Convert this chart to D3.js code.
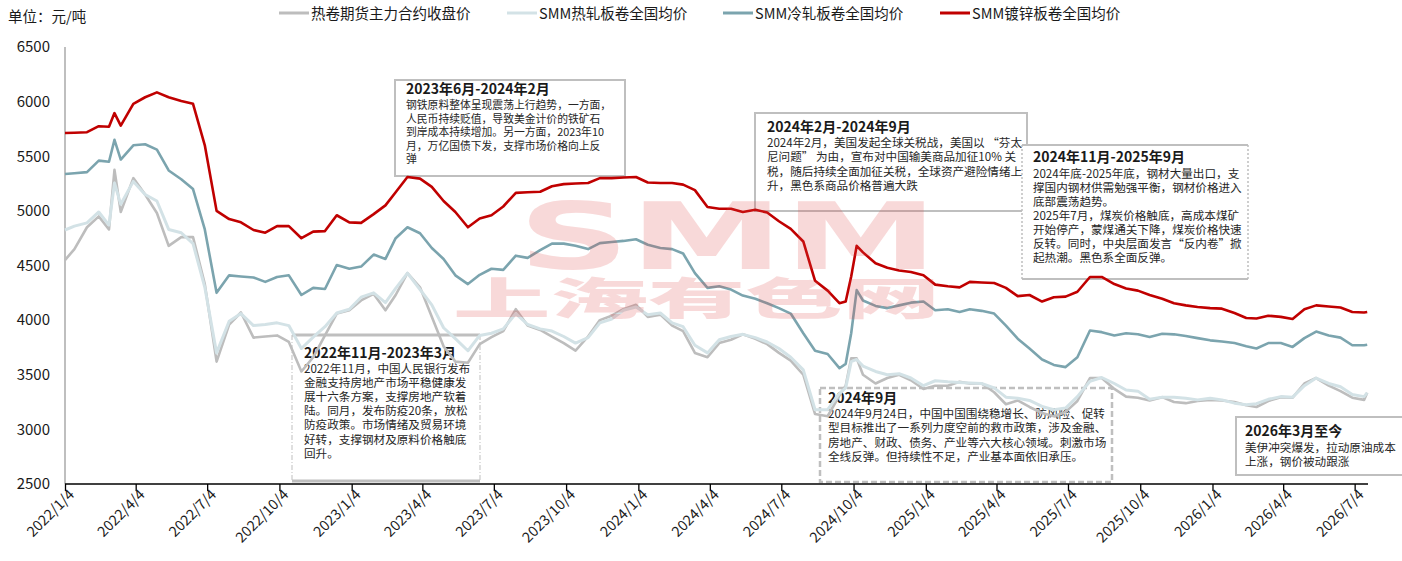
<!DOCTYPE html>
<html>
<head>
<meta charset="utf-8">
<script src="https://cdn.jsdelivr.net/npm/d3@7/dist/d3.min.js"></script>
<style>
  html, body { margin: 0; padding: 0; background: #ffffff; }
  svg { display: block; }
  text { font-family: "Noto Sans CJK SC", "Noto Sans", sans-serif; }
</style>
</head>
<body>
<svg id="chart" width="1402" height="561"></svg>
<script>
// ---------------- DATA ----------------
const dates = [
"2022-01-04","2022-01-16","2022-02-01","2022-02-16","2022-03-01","2022-03-08","2022-03-16","2022-04-01","2022-04-16","2022-05-01",
"2022-05-16","2022-06-01","2022-06-16","2022-07-01","2022-07-16","2022-08-01","2022-08-16","2022-09-01","2022-09-16","2022-10-01",
"2022-10-16","2022-11-01","2022-11-16","2022-12-01","2022-12-16","2023-01-01","2023-01-16","2023-02-01","2023-02-16","2023-03-01",
"2023-03-16","2023-04-01","2023-04-16","2023-05-01","2023-05-16","2023-06-01","2023-06-16","2023-07-01","2023-07-16","2023-08-01",
"2023-08-16","2023-09-01","2023-09-16","2023-10-01","2023-10-16","2023-11-01","2023-11-16","2023-12-01","2023-12-16","2024-01-01",
"2024-01-16","2024-02-01","2024-02-16","2024-03-01","2024-03-16","2024-04-01","2024-04-16","2024-05-01","2024-05-16","2024-06-01",
"2024-06-16","2024-07-01","2024-07-16","2024-08-01","2024-08-16","2024-09-01","2024-09-16","2024-09-24","2024-10-01","2024-10-08",
"2024-10-16","2024-11-01","2024-11-16","2024-12-01","2024-12-16","2025-01-01","2025-01-16","2025-02-01","2025-02-16","2025-03-01",
"2025-03-16","2025-04-01","2025-04-16","2025-05-01","2025-05-16","2025-06-01","2025-06-16","2025-07-01","2025-07-16","2025-08-01",
"2025-08-16","2025-09-01","2025-09-16","2025-10-01","2025-10-16","2025-11-01","2025-11-16","2025-12-01","2025-12-16","2026-01-01",
"2026-01-16","2026-02-01","2026-02-16","2026-03-01","2026-03-16","2026-04-01","2026-04-16","2026-05-01","2026-05-16","2026-06-01",
"2026-06-16","2026-07-01","2026-07-16","2026-07-20"
];

// 热卷期货主力合约收盘价
const futuresHRC = [
4550,4650,4850,4950,4830,5375,4990,5300,5150,4980,
4680,4760,4760,4330,3620,3960,4070,3840,3850,3860,
3800,3530,3660,3860,4060,4090,4180,4240,4090,4230,
4430,4300,4030,3760,3620,3610,3780,3845,3900,4100,
3950,3910,3850,3790,3720,3850,4000,4040,4100,4140,
4030,4050,3950,3900,3700,3660,3790,3820,3870,3830,
3780,3700,3630,3500,3140,3120,3310,3400,3650,3650,
3500,3420,3470,3500,3450,3370,3400,3400,3435,3420,
3420,3340,3230,3265,3205,3150,3120,3160,3260,3470,
3470,3370,3300,3290,3265,3295,3250,3240,3260,3270,
3265,3250,3220,3205,3260,3295,3290,3420,3470,3400,
3350,3290,3270,3335
];

// SMM热轧板卷全国均价
const smmHotRolled = [
4825,4860,4890,4990,4870,5255,5060,5270,5150,5090,
4830,4800,4700,4300,3700,3990,4060,3950,3960,3975,
3950,3740,3845,3940,4065,4100,4210,4250,4160,4290,
4430,4280,4140,3930,3830,3720,3860,3880,3920,4060,
3960,3920,3900,3850,3790,3840,3975,4010,4090,4120,
4050,4065,3975,3940,3770,3700,3820,3850,3870,3840,
3800,3740,3660,3545,3180,3180,3330,3380,3620,3640,
3580,3530,3500,3510,3470,3400,3445,3435,3430,3425,
3420,3380,3295,3285,3265,3210,3180,3195,3300,3440,
3475,3420,3360,3350,3275,3295,3295,3285,3270,3285,
3270,3240,3225,3235,3275,3300,3295,3400,3470,3420,
3390,3320,3300,3335
];

// SMM冷轧板卷全国均价
const smmColdRolled = [
5337,5345,5355,5460,5450,5650,5470,5600,5610,5560,
5370,5290,5200,4830,4250,4410,4400,4390,4350,4395,
4410,4230,4295,4285,4505,4470,4490,4600,4560,4750,
4850,4795,4660,4560,4410,4330,4415,4470,4460,4590,
4570,4640,4700,4700,4680,4650,4705,4715,4725,4740,
4690,4660,4650,4610,4430,4295,4310,4280,4225,4195,
4155,4110,4060,3880,3720,3690,3560,3600,3880,4275,
4180,4130,4110,4135,4160,4170,4090,4100,4075,4100,
4085,4060,3950,3830,3740,3640,3590,3570,3660,3905,
3890,3860,3880,3870,3845,3875,3870,3855,3835,3815,
3805,3790,3760,3740,3790,3790,3755,3835,3895,3860,
3840,3770,3770,3775
];

// SMM镀锌板卷全国均价
const smmGalvanized = [
5713,5715,5720,5775,5770,5895,5780,5980,6040,6085,
6040,6005,5980,5600,5000,4925,4895,4825,4800,4860,
4860,4750,4810,4815,4960,4895,4890,4970,5050,5170,
5310,5295,5220,5090,4990,4850,4930,4960,5040,5165,
5170,5175,5225,5245,5250,5255,5300,5300,5305,5310,
5260,5255,5255,5240,5190,5035,5020,5020,4990,5010,
4985,4905,4835,4720,4360,4270,4155,4170,4400,4680,
4620,4520,4480,4455,4440,4410,4325,4310,4300,4350,
4345,4340,4295,4220,4230,4170,4210,4215,4260,4395,
4395,4330,4290,4270,4230,4195,4155,4135,4120,4110,
4105,4065,4020,4015,4040,4030,4010,4100,4135,4125,
4115,4075,4070,4075
];

const seriesNames = ["热卷期货主力合约收盘价","SMM热轧板卷全国均价","SMM冷轧板卷全国均价","SMM镀锌板卷全国均价"];
const seriesColors = ["#bdbdbd","#d3e2e6","#7ba4ae","#c00000"];

const xTickLabels = ["2022/1/4","2022/4/4","2022/7/4","2022/10/4","2023/1/4","2023/4/4","2023/7/4","2023/10/4",
  "2024/1/4","2024/4/4","2024/7/4","2024/10/4","2025/1/4","2025/4/4","2025/7/4","2025/10/4","2026/1/4","2026/4/4","2026/7/4"];
const yTicks = [2500,3000,3500,4000,4500,5000,5500,6000,6500];

const notes = [
  {title:"2023年6月-2024年2月", lines:["钢铁原料整体呈现震荡上行趋势，一方面，","人民币持续贬值，导致美金计价的铁矿石","到岸成本持续增加。另一方面，2023年10","月，万亿国债下发，支撑市场价格向上反","弹"]},
  {title:"2024年2月-2024年9月", lines:["2024年2月，美国发起全球关税战，美国以 “芬太","尼问题” 为由，宣布对中国输美商品加征10% 关","税，随后持续全面加征关税，全球资产避险情绪上","升，黑色系商品价格普遍大跌"]},
  {title:"2024年11月-2025年9月", lines:["2024年底-2025年底，钢材大量出口，支","撑国内钢材供需勉强平衡，钢材价格进入","底部震荡趋势。","2025年7月，煤炭价格触底，高成本煤矿","开始停产，蒙煤通关下降，煤炭价格快速","反转。同时，中央层面发言“反内卷”掀","起热潮。黑色系全面反弹。"]},
  {title:"2022年11月-2023年3月", lines:["2022年11月，中国人民银行发布","金融支持房地产市场平稳健康发","展十六条方案，支撑房地产软着","陆。同月，发布防疫20条，放松","防疫政策。市场情绪及贸易环境","好转，支撑钢材及原料价格触底","回升。"]},
  {title:"2024年9月", lines:["2024年9月24日，中国中国围绕稳增长、防风险、促转","型目标推出了一系列力度空前的救市政策，涉及金融、","房地产、财政、债务、产业等六大核心领域。刺激市场","全线反弹。但持续性不足，产业基本面依旧承压。"]},
  {title:"2026年3月至今", lines:["美伊冲突爆发，拉动原油成本","上涨，钢价被动跟涨"]}
];

// ---------------- LAYOUT ----------------
const svg = d3.select("#chart");
const W = 1402, H = 561;
const parse = d3.timeParse("%Y-%m-%d");
const parseTick = d3.timeParse("%Y/%-m/%-d");

const x = d3.scaleTime()
  .domain([parse("2022-01-04"), parse("2026-07-21")])
  .range([65, 1368]);
const y = d3.scaleLinear().domain([2500, 6500]).range([484, 47]);

svg.append("rect").attr("width", W).attr("height", H).attr("fill", "#fff");

// annotation boxes (behind lines)
const boxLayout = [
  {x:395, y:80,  w:230, h:96,  tx:406,  ty:94,  by:109, lh:13.5, fs:10.8, dash:null,  sw:2},
  {x:755, y:113, w:272, h:98,  tx:767,  ty:132, by:147, lh:14.3, fs:11.6, dash:null,  sw:2},
  {x:1022,y:145, w:226, h:134, tx:1033, ty:162, by:178, lh:14,   fs:11.6, dash:"dotsides", sw:2},
  {x:292, y:335, w:188, h:146, tx:304,  ty:358, by:373, lh:14.1, fs:11.6, dash:"box4", sw:3},
  {x:820, y:388, w:292, h:94,  tx:828,  ty:403, by:418, lh:14.3, fs:11.6, dash:"6,3", sw:2.5},
  {x:1236,y:417, w:180, h:58,  tx:1245, ty:435.5, by:452, lh:14, fs:11.6, dash:null,  sw:2}
];
const gBoxes = svg.append("g");
notes.forEach((n, i) => {
  const b = boxLayout[i];
  const g = gBoxes.append("g");
  g.append("rect").attr("x", b.x).attr("y", b.y).attr("width", b.w).attr("height", b.h)
    .attr("fill", "#fff").attr("stroke", "none");
  const bc = "#bfbfbf";
  if (b.dash === "dotsides" || b.dash === "box4") {
    g.append("line").attr("x1", b.x).attr("x2", b.x + b.w).attr("y1", b.y).attr("y2", b.y).attr("stroke", bc).attr("stroke-width", b.sw);
    g.append("line").attr("x1", b.x).attr("x2", b.x + b.w).attr("y1", b.y + b.h).attr("y2", b.y + b.h).attr("stroke", bc).attr("stroke-width", b.sw);
    [b.x, b.x + b.w].forEach(xx => g.append("line").attr("x1", xx).attr("x2", xx).attr("y1", b.y).attr("y2", b.y + b.h)
      .attr("stroke", bc).attr("stroke-width", b.dash === "box4" ? 1 : 1.5).attr("stroke-dasharray", b.dash === "box4" ? "5,2,1,2" : "2,2"));
  } else {
    g.append("rect").attr("x", b.x).attr("y", b.y).attr("width", b.w).attr("height", b.h)
      .attr("fill", "none").attr("stroke", bc).attr("stroke-width", b.sw)
      .attr("stroke-dasharray", b.dash);
  }
  g.append("text").attr("x", b.tx).attr("y", b.ty).attr("font-size", 14).attr("font-weight", 700)
    .attr("fill", "#1a1a1a").text(n.title);
  n.lines.forEach((l, j) => {
    g.append("text").attr("x", b.tx).attr("y", b.by + j * b.lh).attr("font-size", b.fs)
      .attr("fill", "#262626").text(l);
  });
});

// axes
svg.append("line").attr("x1", 65).attr("x2", 65).attr("y1", 47).attr("y2", 484)
  .attr("stroke", "#bfbfbf").attr("stroke-width", 2);

const tickDates = xTickLabels.map(parseTick);
const xAxis = d3.axisBottom(x).tickValues(tickDates).tickSize(7).tickFormat((d, i) => xTickLabels[i]);
const gx = svg.append("g").attr("transform", "translate(0,484)").call(xAxis);
gx.select(".domain").attr("stroke", "#000").attr("stroke-width", 1.5).attr("d", "M65,0H1368");
gx.selectAll(".tick line").attr("stroke", "#000").attr("stroke-width", 1.3);
gx.selectAll(".tick text")
  .attr("font-size", 14.5).attr("fill", "#1a1a1a")
  .attr("font-family", "\"Noto Sans CJK SC\", sans-serif")
  .attr("text-anchor", "end")
  .attr("transform", "translate(6,8) rotate(-45)")
  .attr("x", 0).attr("y", 0).attr("dy", "0.35em");

const yAxis = d3.axisLeft(y).tickValues(yTicks).tickSize(0).tickPadding(0).tickFormat(d3.format("d"));
const gy = svg.append("g").attr("transform", "translate(50,0)").call(yAxis);
gy.select(".domain").remove();
gy.selectAll(".tick text").attr("font-size", 15).attr("fill", "#1a1a1a")
  .attr("font-family", "\"Noto Sans CJK SC\", sans-serif").attr("text-anchor", "end");

// lines
const allSeries = [futuresHRC, smmHotRolled, smmColdRolled, smmGalvanized];
const widths = [2.6, 3.0, 2.6, 2.6];
const line = d3.line().x(d => x(d.date)).y(d => y(d.v)).curve(d3.curveLinear);
allSeries.forEach((vals, i) => {
  const pts = dates.map((d, k) => ({date: parse(d), v: vals[k]}));
  svg.append("path").datum(pts).attr("d", line)
    .attr("fill", "none").attr("stroke", seriesColors[i]).attr("stroke-width", widths[i])
    .attr("stroke-linejoin", "round");
});

// watermark (one logo text with two rows)
const wm = svg.append("text").attr("fill", "rgb(225,70,70)").attr("opacity", 0.2)
  .attr("pointer-events", "none").attr("font-weight", 900);
wm.append("tspan").attr("x", 518).attr("y", 269).attr("font-size", 92)
  .attr("font-family", "\"DejaVu Sans\", sans-serif")
  .attr("textLength", 420).attr("lengthAdjust", "spacingAndGlyphs").text("SMM");
wm.append("tspan").attr("x", 453).attr("y", 315).attr("font-size", 44)
  .attr("textLength", 487).attr("lengthAdjust", "spacingAndGlyphs").text("上海有色网");

// unit label
svg.append("text").attr("x", 8).attr("y", 22).attr("font-size", 14.5).attr("fill", "#1a1a1a").text("单位：元/吨");

// legend
const legendX = [279, 507, 723, 940];
seriesNames.forEach((name, i) => {
  svg.append("line").attr("x1", legendX[i]).attr("x2", legendX[i] + 30).attr("y1", 13).attr("y2", 13)
    .attr("stroke", seriesColors[i]).attr("stroke-width", 3);
  svg.append("text").attr("x", legendX[i] + 32).attr("y", 18.5).attr("font-size", 14.5)
    .attr("fill", "#1a1a1a").text(name);
});
</script>
</body>
</html>
